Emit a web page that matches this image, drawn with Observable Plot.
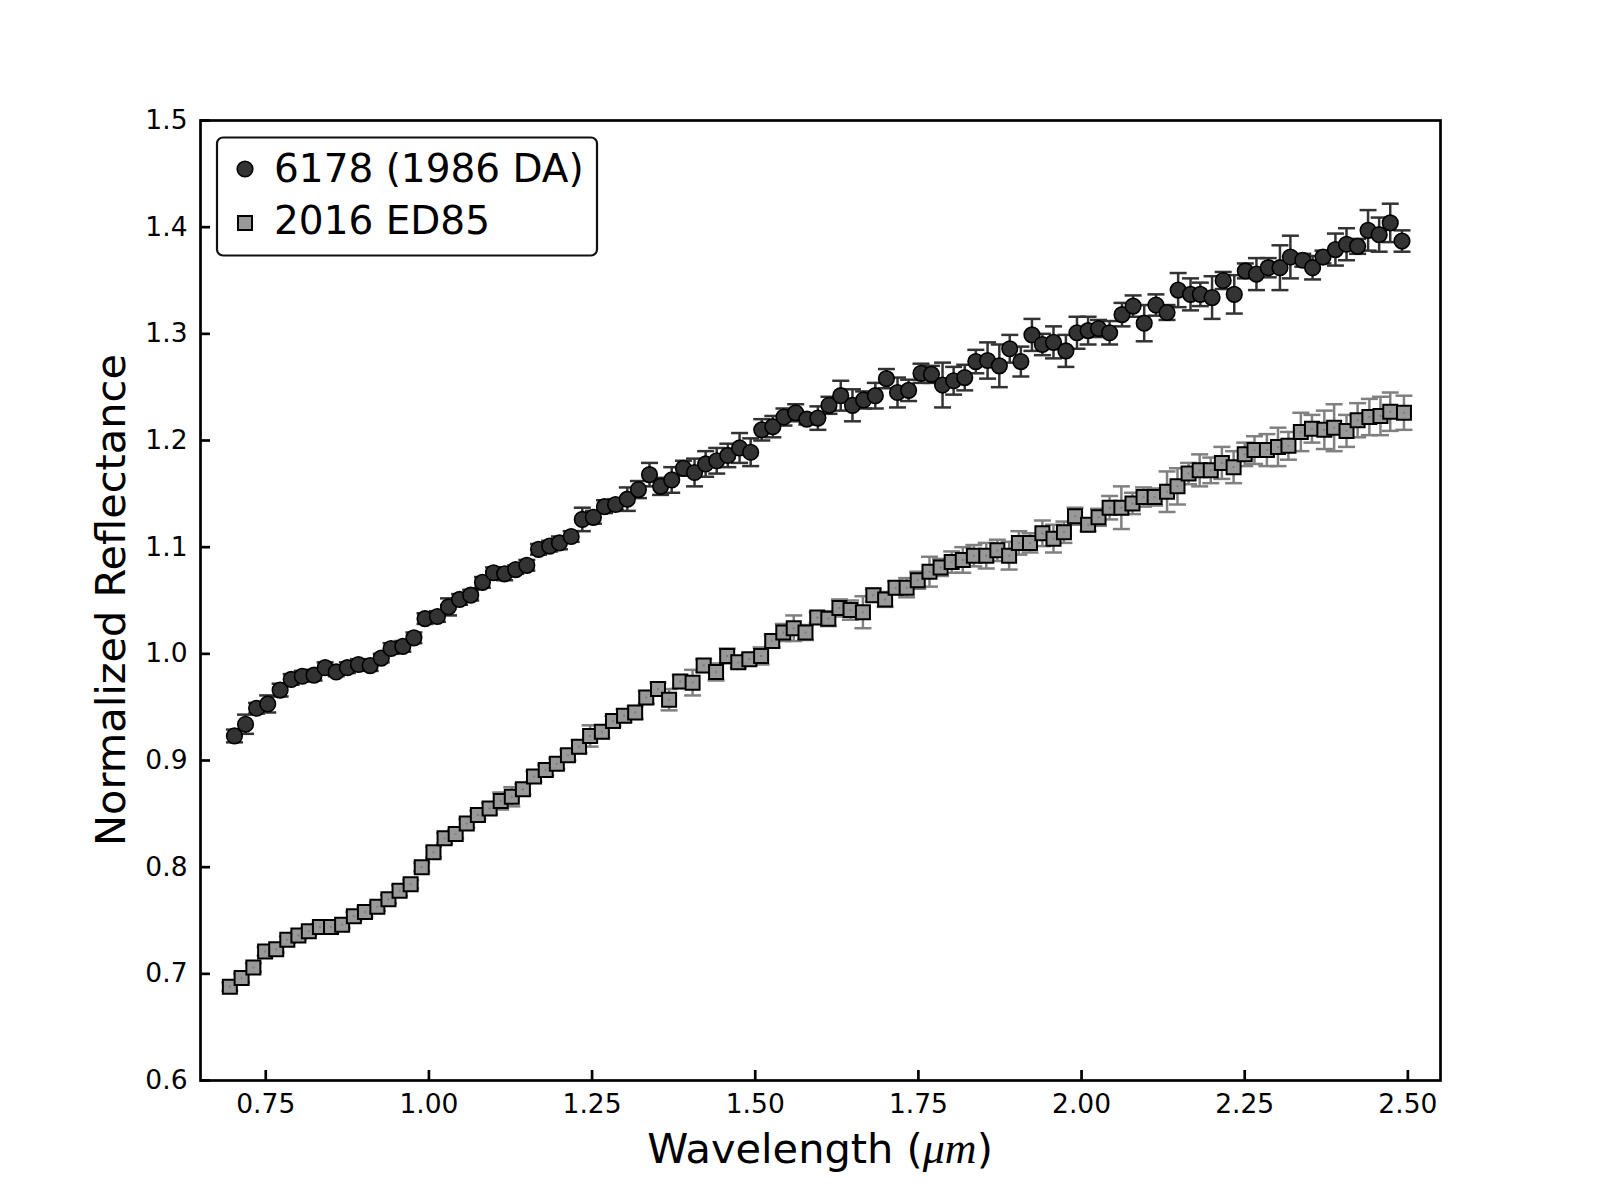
<!DOCTYPE html>
<html><head><meta charset="utf-8">
<script src="https://cdn.jsdelivr.net/npm/d3@7"></script>
<script src="https://cdn.jsdelivr.net/npm/@observablehq/plot@0.6"></script>
<style>html,body{margin:0;padding:0;background:#fff;} #chart{width:1600px;height:1200px;}</style>
</head><body><div id="chart"></div>
<script>
// Series A: 6178 (1986 DA)
const waveA = [0.702,0.719,0.736,0.753,0.772,0.789,0.806,0.824,0.841,0.858,
0.875,0.892,0.910,0.927,0.942,0.960,0.977,0.994,1.013,1.030,
1.047,1.064,1.082,1.099,1.116,1.133,1.150,1.168,1.185,1.200,
1.218,1.235,1.252,1.269,1.286,1.304,1.321,1.338,1.355,1.372,
1.390,1.407,1.424,1.441,1.458,1.476,1.493,1.510,1.527,1.544,
1.562,1.579,1.596,1.613,1.631,1.649,1.666,1.684,1.701,1.718,
1.735,1.754,1.770,1.787,1.804,1.821,1.838,1.856,1.874,1.890,
1.907,1.924,1.940,1.957,1.976,1.993,2.010,2.026,2.043,2.062,
2.079,2.096,2.114,2.131,2.148,2.167,2.182,2.200,2.217,2.234,
2.251,2.268,2.286,2.304,2.320,2.339,2.354,2.370,2.389,2.406,
2.423,2.439,2.456,2.473,2.491];
const reflA = [0.923,0.934,0.949,0.953,0.966,0.976,0.979,0.980,0.987,0.983,
0.987,0.990,0.989,0.996,1.005,1.007,1.015,1.033,1.035,1.044,
1.051,1.055,1.067,1.076,1.075,1.079,1.083,1.098,1.101,1.104,
1.110,1.126,1.128,1.138,1.140,1.145,1.154,1.168,1.157,1.163,
1.174,1.170,1.178,1.181,1.186,1.193,1.189,1.210,1.213,1.222,
1.226,1.220,1.221,1.233,1.242,1.233,1.238,1.242,1.258,1.245,
1.247,1.263,1.262,1.252,1.256,1.259,1.274,1.275,1.270,1.286,
1.274,1.299,1.290,1.292,1.284,1.301,1.303,1.305,1.301,1.318,
1.326,1.310,1.327,1.320,1.341,1.337,1.337,1.334,1.350,1.337,
1.359,1.356,1.362,1.362,1.372,1.369,1.362,1.372,1.379,1.384,
1.382,1.397,1.393,1.404,1.387];
const errA = [0.006,0.009,0.005,0.008,0.006,0.005,0.005,0.005,0.005,0.004,
0.005,0.005,0.005,0.004,0.005,0.005,0.005,0.005,0.005,0.008,
0.005,0.005,0.005,0.005,0.006,0.004,0.005,0.005,0.005,0.006,
0.005,0.011,0.006,0.006,0.005,0.011,0.008,0.011,0.008,0.012,
0.007,0.013,0.012,0.012,0.011,0.014,0.013,0.010,0.010,0.008,
0.008,0.005,0.011,0.008,0.014,0.015,0.008,0.012,0.009,0.014,
0.010,0.009,0.008,0.021,0.013,0.012,0.011,0.017,0.020,0.013,
0.014,0.015,0.010,0.015,0.015,0.015,0.013,0.008,0.011,0.011,
0.010,0.017,0.010,0.007,0.016,0.015,0.011,0.020,0.008,0.018,
0.007,0.015,0.009,0.021,0.020,0.006,0.011,0.006,0.015,0.015,
0.007,0.019,0.016,0.018,0.010];

// Series B: 2016 ED85
const waveB = [0.695,0.713,0.731,0.749,0.766,0.783,0.800,0.816,0.833,0.850,
0.867,0.885,0.902,0.921,0.938,0.955,0.972,0.989,1.007,1.024,
1.041,1.058,1.075,1.093,1.110,1.127,1.144,1.161,1.179,1.196,
1.213,1.230,1.247,1.265,1.282,1.299,1.316,1.333,1.351,1.368,
1.385,1.404,1.421,1.440,1.457,1.474,1.491,1.509,1.526,1.543,
1.559,1.577,1.595,1.612,1.629,1.646,1.665,1.681,1.699,1.715,
1.732,1.749,1.767,1.784,1.801,1.818,1.835,1.854,1.871,1.889,
1.904,1.921,1.940,1.957,1.973,1.990,2.010,2.026,2.043,2.061,
2.078,2.095,2.112,2.131,2.147,2.164,2.181,2.198,2.215,2.233,
2.250,2.265,2.284,2.301,2.317,2.336,2.353,2.372,2.387,2.406,
2.423,2.441,2.458,2.473,2.494];
const reflB = [0.688,0.696,0.706,0.721,0.723,0.732,0.736,0.740,0.744,0.744,
0.746,0.754,0.758,0.763,0.770,0.778,0.784,0.800,0.814,0.827,
0.831,0.841,0.849,0.855,0.862,0.866,0.873,0.885,0.891,0.897,
0.905,0.913,0.923,0.927,0.937,0.942,0.945,0.959,0.967,0.957,
0.974,0.973,0.989,0.983,0.998,0.992,0.995,0.998,1.012,1.020,
1.024,1.020,1.034,1.033,1.043,1.041,1.039,1.055,1.051,1.062,
1.062,1.069,1.077,1.081,1.086,1.088,1.092,1.092,1.097,1.092,
1.104,1.104,1.113,1.108,1.114,1.129,1.121,1.128,1.137,1.137,
1.141,1.147,1.147,1.152,1.157,1.169,1.172,1.172,1.179,1.175,
1.187,1.191,1.191,1.194,1.195,1.208,1.211,1.210,1.212,1.209,
1.219,1.222,1.223,1.227,1.226];
const errB = [0.004,0.004,0.004,0.004,0.003,0.003,0.003,0.003,0.003,0.003,
0.003,0.004,0.005,0.004,0.004,0.005,0.004,0.004,0.005,0.005,
0.004,0.004,0.004,0.005,0.008,0.009,0.005,0.005,0.005,0.005,
0.005,0.006,0.010,0.006,0.005,0.006,0.006,0.006,0.006,0.010,
0.006,0.012,0.006,0.008,0.007,0.005,0.005,0.008,0.006,0.008,
0.012,0.007,0.005,0.007,0.008,0.009,0.015,0.006,0.007,0.006,
0.009,0.008,0.014,0.008,0.010,0.012,0.010,0.012,0.010,0.013,
0.011,0.009,0.012,0.013,0.010,0.008,0.006,0.008,0.011,0.020,
0.010,0.009,0.008,0.019,0.017,0.010,0.015,0.012,0.015,0.015,
0.011,0.013,0.015,0.018,0.013,0.018,0.013,0.018,0.022,0.015,
0.016,0.017,0.018,0.018,0.016];

const seriesNames = ["6178 (1986 DA)", "2016 ED85"];
const xTicks = [0.75, 1.00, 1.25, 1.50, 1.75, 2.00, 2.25, 2.50];
const yTicks = [0.6, 0.7, 0.8, 0.9, 1.0, 1.1, 1.2, 1.3, 1.4, 1.5];

const A = waveA.map((w, i) => ({w, r: reflA[i], e: errA[i]}));
const B = waveB.map((w, i) => ({w, r: reflB[i], e: errB[i]}));

const colA = "#333333", errColA = "#333333";
const colB = "#999999", errColB = "#808080";

// horizontal cap symbol for error bars
const cap = {draw(ctx, size) { const h = Math.sqrt(size / Math.PI); ctx.moveTo(-h, 0); ctx.lineTo(h, 0); }};

function errMarks(data, color) {
  return [
    Plot.ruleX(data, {x: "w", y1: d => d.r - d.e, y2: d => d.r + d.e, stroke: color, strokeWidth: 2.5}),
    Plot.dot(data, {x: "w", y: d => d.r - d.e, symbol: cap, r: 8.5, stroke: color, strokeWidth: 2.5, fill: "none"}),
    Plot.dot(data, {x: "w", y: d => d.r + d.e, symbol: cap, r: 8.5, stroke: color, strokeWidth: 2.5, fill: "none"})
  ];
}

const plot = Plot.plot({
  width: 1600, height: 1200,
  marginLeft: 200, marginRight: 160, marginTop: 120, marginBottom: 120,
  style: {fontFamily: "DejaVu Sans", fontSize: "26.5px", color: "black", background: "white"},
  x: {domain: [0.65, 2.55], label: null},
  y: {domain: [0.6, 1.5], label: null},
  marks: [
    ...errMarks(B, errColB),
    Plot.dot(B, {x: "w", y: "r", symbol: "square", r: 7.9, fill: colB, stroke: "black", strokeWidth: 2}),
    Plot.dot(B, {x: "w", y: "r", r: 1.2, fill: errColB}),
    ...errMarks(A, errColA),
    Plot.dot(A, {x: "w", y: "r", r: 7.8, fill: colA, stroke: "black", strokeWidth: 1.6}),
    Plot.axisX(xTicks, {tickSize: -10, strokeWidth: 2.7, tickFormat: () => "", label: null}),
    Plot.axisX(xTicks, {tickSize: 0, tickPadding: 14, tickFormat: d3.format(".2f"), fill: "black", label: null}),
    Plot.axisY(yTicks, {tickSize: -10, strokeWidth: 2.7, tickFormat: () => "", label: null}),
    Plot.axisY(yTicks, {tickSize: 0, tickPadding: 13, tickFormat: d3.format(".1f"), fill: "black", label: null}),
    Plot.frame({stroke: "black", strokeWidth: 2.7})
  ]
});

document.getElementById("chart").appendChild(plot);
const svg = d3.select(plot);

// x label with math-italic unit
const xl = svg.append("text")
  .attr("x", 820).attr("y", 1163)
  .attr("text-anchor", "middle")
  .style("font-family", "DejaVu Sans").style("font-size", "41.5px").attr("fill", "black");
xl.append("tspan").text("Wavelength (");
xl.append("tspan").text("μm").style("font-family", "'Liberation Serif', serif").style("font-style", "italic").style("font-size", "44px");
xl.append("tspan").text(")");

// y label
svg.append("text")
  .attr("transform", "translate(125,600) rotate(-90)")
  .attr("text-anchor", "middle")
  .style("font-family", "DejaVu Sans").style("font-size", "41.5px").attr("fill", "black")
  .text("Normalized Reflectance");

// legend
const lg = svg.append("g").attr("text-anchor", "start");
lg.append("rect").attr("x", 217).attr("y", 137.5).attr("width", 380).attr("height", 118)
  .attr("rx", 6).attr("fill", "white").attr("stroke", "#111").attr("stroke-width", 2.2);
lg.append("circle").attr("cx", 245).attr("cy", 169).attr("r", 7.8)
  .attr("fill", colA).attr("stroke", "black").attr("stroke-width", 1.6);
lg.append("rect").attr("x", 238).attr("y", 216).attr("width", 14).attr("height", 14)
  .attr("fill", colB).attr("stroke", "black").attr("stroke-width", 2);
lg.append("text").attr("x", 274).attr("y", 181.5).attr("text-anchor", "start")
  .style("font-family", "DejaVu Sans").style("font-size", "39px").attr("fill", "black").text(seriesNames[0]);
lg.append("text").attr("x", 274).attr("y", 234).attr("text-anchor", "start")
  .style("font-family", "DejaVu Sans").style("font-size", "39px").attr("fill", "black").text(seriesNames[1]);
</script>
</body></html>
